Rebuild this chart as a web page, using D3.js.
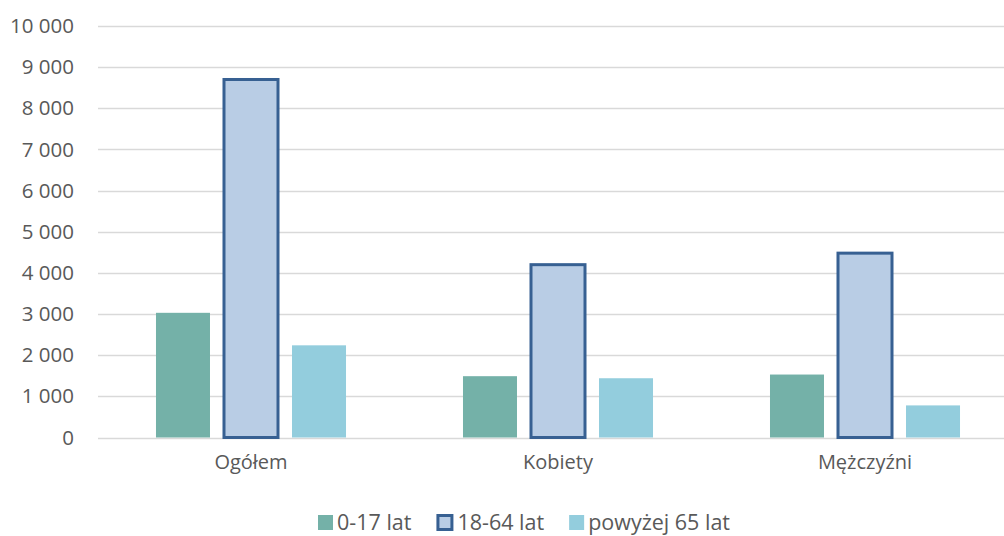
<!DOCTYPE html>
<html><head><meta charset="utf-8">
<script src="https://cdn.jsdelivr.net/npm/d3@7"></script>
<style>
html,body{margin:0;padding:0;background:#fff;}
svg{display:block;font-family:"Open Sans",sans-serif;}
</style></head>
<body>
<svg id="chart" width="1004" height="536"></svg>
<script>
const categories = ["Ogółem", "Kobiety", "Mężczyźni"];
const seriesNames = ["0-17 lat", "18-64 lat", "powyżej 65 lat"];
const s0_17 = [3030, 1490, 1530];
const s18_64 = [8700, 4200, 4480];
const s65 = [2240, 1440, 780];
const yTicks = [0, 1000, 2000, 3000, 4000, 5000, 6000, 7000, 8000, 9000, 10000];

const seriesValues = [s0_17, s18_64, s65];
const fills = ["#74b1a8", "#b9cde5", "#93cddd"];
const strokes = [null, "#376092", null];

const svg = d3.select("#chart");
const W = 1004, H = 536;

const y = d3.scaleLinear().domain([0, 10000]).range([437.5, 26]);
const x0 = d3.scaleBand().domain(categories).range([97.5, 1018.5]).paddingInner(0.381).paddingOuter(0.1905);
const x1 = d3.scaleBand().domain(d3.range(3)).range([0, x0.bandwidth()]).paddingInner(0.206).paddingOuter(0);

const fmt = d3.formatLocale({decimal: ",", thousands: " ", grouping: [3], currency: ["", ""]}).format(",d");

// gridlines
svg.append("g").selectAll("line").data(yTicks).join("line")
  .attr("x1", 98).attr("x2", W)
  .attr("y1", d => Math.round(y(d)) + 0.5).attr("y2", d => Math.round(y(d)) + 0.5)
  .attr("stroke", "#d9d9d9").attr("stroke-width", 1.5);

// y axis labels
const yAxis = d3.axisLeft(y).tickValues(yTicks).tickFormat(fmt).tickSize(0).tickPadding(0);
const gy = svg.append("g").attr("transform", "translate(74,0)").call(yAxis);
gy.select(".domain").remove();
gy.selectAll("text").attr("font-family", "Open Sans").attr("font-size", 20.5).attr("fill", "#595959");

// bars
const groups = svg.append("g").selectAll("g").data(categories).join("g")
  .attr("transform", d => `translate(${x0(d)},0)`);
groups.selectAll("rect").data((c, ci) => seriesValues.map((s, si) => ({si, v: s[ci]}))).join("rect")
  .attr("x", d => x1(d.si))
  .attr("width", x1.bandwidth())
  .attr("y", d => y(d.v))
  .attr("height", d => y(0) - y(d.v))
  .attr("fill", d => fills[d.si])
  .attr("stroke", d => strokes[d.si] || "none")
  .attr("stroke-width", d => strokes[d.si] ? 3 : 0);

// x labels
const xAxis = d3.axisBottom(x0).tickSize(0).tickPadding(0);
const gx = svg.append("g").attr("transform", "translate(0,455)").call(xAxis);
gx.select(".domain").remove();
gx.selectAll("text").attr("font-family", "Open Sans").attr("font-size", 20).attr("fill", "#595959");

// legend
const leg = svg.append("g");
let lx = 318;
seriesNames.forEach((n, i) => {
  const g = leg.append("g").attr("transform", `translate(${lx},0)`);
  if (strokes[i]) {
    g.append("rect").attr("x", 1.5).attr("y", 515.5).attr("width", 14).attr("height", 14)
      .attr("fill", fills[i]).attr("stroke", strokes[i]).attr("stroke-width", 3);
  } else {
    g.append("rect").attr("x", 0).attr("y", 515).attr("width", 15).attr("height", 15).attr("fill", fills[i]);
  }
  const t = g.append("text").attr("x", strokes[i] ? 21 : 19).attr("y", 530)
    .attr("font-size", 21.5).attr("fill", "#595959").text(n);
  const w = t.node().getComputedTextLength();
  lx += (strokes[i] ? 21 : 19) + w + 25;
});
</script>
</body></html>
